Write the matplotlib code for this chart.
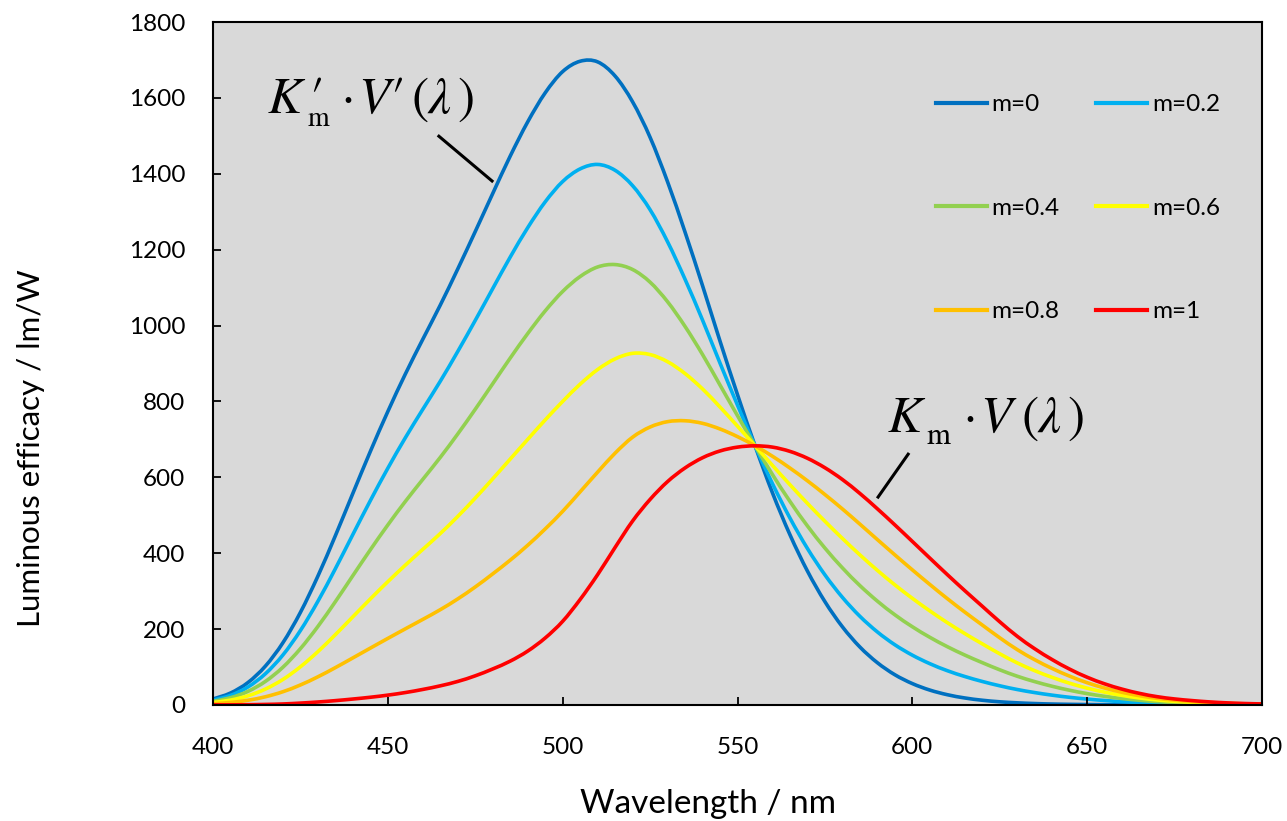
import numpy as np
import matplotlib
matplotlib.use("Agg")
import matplotlib.pyplot as plt
from matplotlib.path import Path
from matplotlib.patches import PathPatch

# Wavelength grid (nm) and luminous efficacy (lm/W)
wavelength = list(range(400, 705, 5))

m0 = [15.8, 31.5, 59.2, 102.7, 164.2, 244.1, 339.7, 446.3, 557.8, 668.3,
      773.5, 872.1, 963.9, 1054.0, 1149.2, 1247.8, 1348.1, 1446.7, 1536.8, 1613.3,
      1669.4, 1696.6, 1694.9, 1657.5, 1589.5, 1496.0, 1378.7, 1246.1, 1105.0, 958.8,
      817.7, 683.4, 559.0, 448.6, 352.9, 272.3, 206.0, 152.8, 111.4, 79.7,
      56.4, 39.3, 27.1, 18.5, 12.5, 8.4, 5.7, 3.8, 2.5, 1.7,
      1.2, 0.8, 0.5, 0.4, 0.3, 0.2, 0.1, 0.1, 0.1, 0.0, 0.0]
m02 = [12.7, 25.3, 47.5, 82.5, 131.9, 196.3, 273.3, 359.3, 449.4, 538.7,
       624.0, 704.2, 779.3, 853.3, 931.8, 1013.6, 1097.5, 1180.5, 1257.9, 1326.0,
       1379.6, 1412.9, 1424.6, 1409.1, 1368.6, 1305.2, 1220.7, 1121.9, 1014.3, 900.9,
       790.1, 683.3, 583.1, 492.6, 412.4, 342.9, 283.6, 233.7, 192.5, 158.7,
       131.3, 108.9, 90.4, 75.1, 62.0, 50.6, 40.8, 32.7, 25.9, 20.2,
       15.6, 11.8, 8.7, 6.4, 4.6, 3.3, 2.4, 1.7, 1.2, 0.8, 0.6]
m04 = [9.6, 19.1, 35.9, 62.2, 99.6, 148.5, 207.0, 272.4, 341.0, 409.1,
       474.5, 536.4, 594.7, 652.6, 714.4, 779.4, 846.8, 914.3, 978.9, 1038.6,
       1089.9, 1129.2, 1154.4, 1160.7, 1147.7, 1114.3, 1062.7, 997.6, 923.6, 843.1,
       762.4, 683.2, 607.2, 536.5, 471.8, 413.5, 361.3, 314.7, 273.7, 237.7,
       206.2, 178.4, 153.7, 131.6, 111.6, 92.7, 75.8, 61.6, 49.3, 38.8,
       29.9, 22.8, 17.0, 12.4, 8.9, 6.5, 4.7, 3.3, 2.3, 1.6, 1.1]
m06 = [6.5, 12.9, 24.2, 42.0, 67.3, 100.7, 140.6, 185.4, 232.5, 279.5,
       325.0, 368.5, 410.2, 451.9, 497.0, 545.3, 596.2, 648.1, 700.0, 751.3,
       800.1, 845.6, 884.1, 912.2, 926.8, 923.5, 904.7, 873.4, 832.9, 785.2,
       734.8, 683.2, 631.4, 580.5, 531.3, 484.1, 438.9, 395.6, 354.8, 316.6,
       281.1, 248.0, 217.0, 188.2, 161.1, 134.9, 110.9, 90.4, 72.7, 57.3,
       44.3, 33.8, 25.2, 18.4, 13.2, 9.6, 7.0, 4.9, 3.4, 2.3, 1.7]
m08 = [3.4, 6.7, 12.5, 21.7, 35.0, 52.8, 74.3, 98.5, 124.1, 149.9,
       175.5, 200.7, 225.6, 251.2, 279.6, 311.1, 345.6, 381.8, 421.0, 464.0,
       510.4, 561.9, 613.8, 663.8, 705.8, 732.6, 746.7, 749.1, 742.3, 727.4,
       707.2, 683.1, 655.5, 624.4, 590.8, 554.6, 516.6, 476.6, 435.9, 395.6,
       356.1, 317.6, 280.3, 244.8, 210.7, 177.1, 145.9, 119.3, 96.1, 75.9,
       58.7, 44.7, 33.4, 24.4, 17.5, 12.7, 9.3, 6.5, 4.5, 3.1, 2.2]
m1 = [0.3, 0.4, 0.8, 1.5, 2.7, 5.0, 7.9, 11.5, 15.7, 20.4,
      26.0, 32.8, 41.0, 50.5, 62.1, 76.9, 95.0, 115.6, 142.1, 176.6,
      220.6, 278.2, 343.6, 415.4, 484.9, 541.8, 588.8, 624.8, 651.6, 669.5,
      679.6, 683.0, 679.6, 668.4, 650.2, 625.2, 594.2, 557.5, 517.0, 474.6,
      431.0, 387.1, 343.6, 301.3, 260.2, 219.2, 181.0, 148.2, 119.5, 94.4,
      73.1, 55.7, 41.7, 30.5, 21.9, 15.9, 11.6, 8.1, 5.6, 3.9, 2.8]

labels = ["m=0", "m=0.2", "m=0.4", "m=0.6", "m=0.8", "m=1"]
series = [m0, m02, m04, m06, m08, m1]
colors = ["#0070C0", "#00B0F0", "#92D050", "#FFFF00", "#FFC000", "#FF0000"]

plt.rcParams["font.family"] = ["Lato", "DejaVu Sans"]

PX = 0.72  # points per pixel at dpi=100


def smooth_path(x, y):
    # Excel-style smoothed line: Catmull-Rom segments as cubic Beziers
    pts = np.column_stack([x, y]).astype(float)
    n = len(pts)
    verts = [pts[0]]
    codes = [Path.MOVETO]
    for i in range(n - 1):
        p0 = pts[max(i - 1, 0)]
        p1 = pts[i]
        p2 = pts[i + 1]
        p3 = pts[min(i + 2, n - 1)]
        verts += [p1 + (p2 - p0) / 6, p2 - (p3 - p1) / 6, p2]
        codes += [Path.CURVE4] * 3
    return Path(verts, codes)


def formula(ax, x0, y0, pieces):
    # pieces: (text, dx_px, dy_px, italic, size, ha)
    for s, dx, dy, it, size, ha in pieces:
        ax.annotate(s, xy=(x0, y0), xytext=(dx * PX, dy * PX),
                    textcoords="offset points", ha=ha, va="baseline",
                    fontsize=size, family="STIXGeneral",
                    style="italic" if it else "normal")


fig = plt.figure(figsize=(12.87, 8.21), dpi=100)
ax = fig.add_axes([0.1655, 0.1413, 0.8151, 0.8319])
ax.set_facecolor("#D9D9D9")

for vals, lab, col in zip(series, labels, colors):
    ax.add_patch(PathPatch(smooth_path(wavelength, vals), fill=False,
                           edgecolor=col, linewidth=2.6))
    ax.plot([], [], color=col, linewidth=3, label=lab)

ax.set_xlim(400, 700)
ax.set_ylim(0, 1800)
ax.set_xticks(np.arange(400, 701, 50))
ax.set_yticks(np.arange(0, 1801, 200))
ax.tick_params(direction="in", length=6, width=1.3, labelsize=17.5)
ax.tick_params(axis="x", pad=23)
ax.tick_params(axis="y", pad=20)
for sp in ax.spines.values():
    sp.set_linewidth(1.5)

fig.text(708 / 1287, 1 - 813 / 821, "Wavelength / nm", fontsize=24,
         ha="center", va="baseline")
fig.text(31 / 1287, 1 - 448 / 821, "Luminous efficacy / lm/W", fontsize=22.5,
         rotation=90, ha="center", va="center")

# ── curve annotations ────────────────────────────────────────────────
formula(ax, 415.7, 1560, [
    ("K", 0, 0, True, 37, "left"),
    ("\u2032", 41, 0, False, 37, "left"),
    ("m", 40, -13, False, 20, "left"),
    ("\u00b7", 80, 0, False, 37, "center"),
    ("V", 90, 0, True, 37, "left"),
    ("\u2032", 122, 0, False, 37, "left"),
    ("(", 144, 0, False, 37, "left"),
    ("\u03bb", 160, 0, True, 37, "left"),
    (")", 190, 0, False, 37, "left"),
])
ax.plot([464.6, 479.8], [1499, 1381], color="black", linewidth=2.2)

formula(ax, 593.0, 719.5, [
    ("K", 0, 0, True, 37, "left"),
    ("m", 39, -12, False, 22, "left"),
    ("\u00b7", 82, 0, False, 37, "center"),
    ("V", 92, 0, True, 37, "left"),
    ("(", 134, 0, False, 37, "left"),
    ("\u03bb", 150, 0, True, 37, "left"),
    (")", 180, 0, False, 37, "left"),
])
ax.plot([598.8, 590.2], [661, 548], color="black", linewidth=2.2)

# legend filled row by row: m=0, m=0.2 / m=0.4, m=0.6 / m=0.8, m=1
h, l = ax.get_legend_handles_labels()
order = [0, 2, 4, 1, 3, 5]
ax.legend([h[i] for i in order], [l[i] for i in order],
          loc="upper left", bbox_to_anchor=(0.689, 0.894), ncol=2,
          frameon=False, fontsize=17.5, handlelength=2.1, handletextpad=0.2,
          columnspacing=1.5, labelspacing=3.39, borderpad=0, borderaxespad=0)

fig.savefig("out.png", dpi=100)
